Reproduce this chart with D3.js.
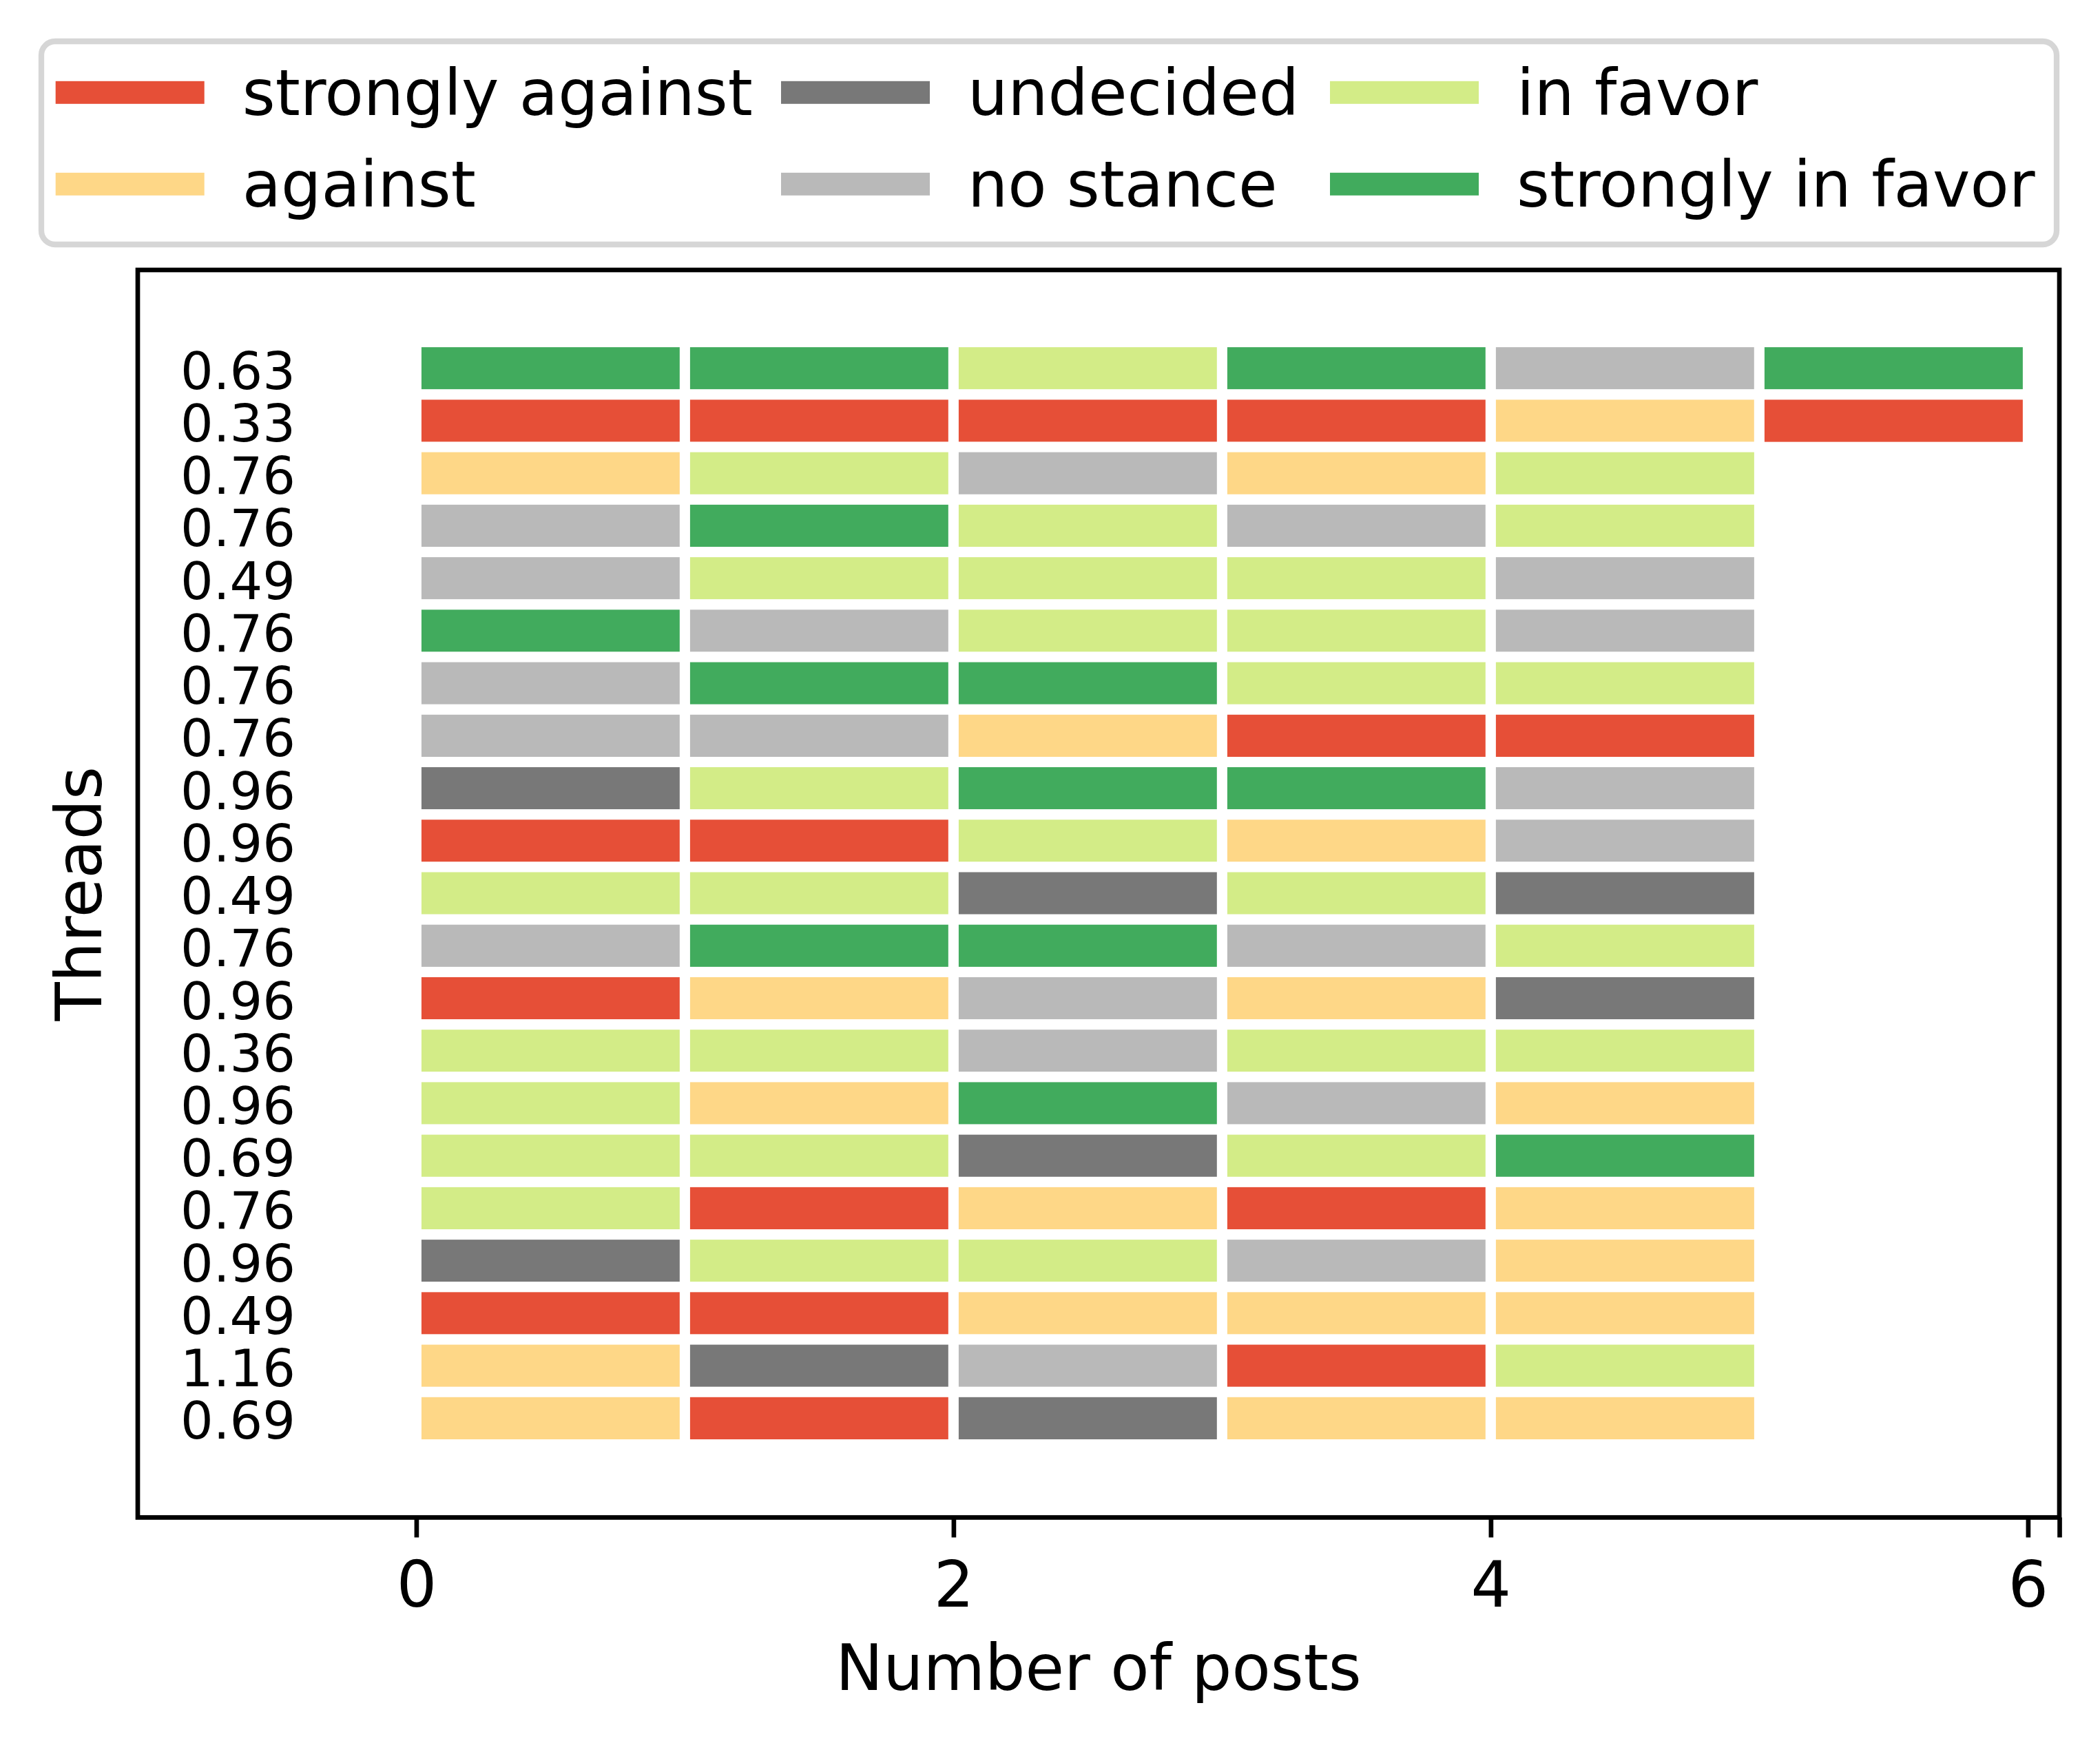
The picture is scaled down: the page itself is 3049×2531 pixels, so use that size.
<!DOCTYPE html>
<html>
<head>
<meta charset="utf-8">
<script src="https://cdn.jsdelivr.net/npm/d3@7"></script>
<style>
    html, body { margin: 0; padding: 0; background: #fff; }
    text { font-family: 'DejaVu Sans', sans-serif; fill: #000; }
</style>
</head>
<body>
<svg id="chart" width="3049" height="2531"></svg>
<script>
(function () {
    'use strict';

    // stance categories, in legend order
    var categories = ['strongly against', 'against', 'undecided', 'no stance', 'in favor', 'strongly in favor'];
    var categoryCodes = ['SA', 'A', 'U', 'N', 'F', 'SF'];
    var categoryColors = ['#e64f37', '#fed787', '#787878', '#b9b9b9', '#d3ec87', '#41ab5d'];

    // one label per thread, top to bottom
    var threadLabels = ['0.63', '0.33', '0.76', '0.76', '0.49', '0.76', '0.76', '0.76', '0.96', '0.96',
        '0.49', '0.76', '0.96', '0.36', '0.96', '0.69', '0.76', '0.96', '0.49', '1.16', '0.69'];

    // stance of each post, per thread
    var threadStances = [
        ['SF', 'SF', 'F', 'SF', 'N', 'SF'],
        ['SA', 'SA', 'SA', 'SA', 'A', 'SA'],
        ['A', 'F', 'N', 'A', 'F'],
        ['N', 'SF', 'F', 'N', 'F'],
        ['N', 'F', 'F', 'F', 'N'],
        ['SF', 'N', 'F', 'F', 'N'],
        ['N', 'SF', 'SF', 'F', 'F'],
        ['N', 'N', 'A', 'SA', 'SA'],
        ['U', 'F', 'SF', 'SF', 'N'],
        ['SA', 'SA', 'F', 'A', 'N'],
        ['F', 'F', 'U', 'F', 'U'],
        ['N', 'SF', 'SF', 'N', 'F'],
        ['SA', 'A', 'N', 'A', 'U'],
        ['F', 'F', 'N', 'F', 'F'],
        ['F', 'A', 'SF', 'N', 'A'],
        ['F', 'F', 'U', 'F', 'SF'],
        ['F', 'SA', 'A', 'SA', 'A'],
        ['U', 'F', 'F', 'N', 'A'],
        ['SA', 'SA', 'A', 'A', 'A'],
        ['A', 'U', 'N', 'SA', 'F'],
        ['A', 'SA', 'U', 'A', 'A']
    ];

    var xTicks = [0, 2, 4, 6];

    var plot = { left: 200, right: 2990, top: 392, bottom: 2203.5 },
        xDomain = [-1.037, 6.117],
        yDomain = [-1.873, 21.89],
        spineWidth = 6.67,
        svg = d3.select('#chart');

    var x = d3.scaleLinear().domain(xDomain).range([plot.left, plot.right]);
    var y = d3.scaleLinear().domain(yDomain).range([plot.top, plot.bottom]);
    var color = d3.scaleOrdinal().domain(categoryCodes).range(categoryColors);

    var cells = [];
    threadStances.forEach(function (row, r) {
        row.forEach(function (code, c) {
            cells.push({ row: r, col: c, code: code });
        });
    });

    // bars, one per post, separated by white edges
    svg.append('g')
        .attr('class', 'bars')
        .selectAll('rect')
        .data(cells)
        .enter()
        .append('rect')
        .attr('x', function (d) { return x(d.col); })
        .attr('width', function (d) { return x(d.col + 1) - x(d.col); })
        .attr('y', function (d) { return y(d.row - 0.5); })
        .attr('height', function (d) { return y(d.row + 0.5) - y(d.row - 0.5); })
        .attr('fill', function (d) { return color(d.code); })
        .attr('stroke', '#fff')
        .attr('stroke-width', 15);

    // thread labels drawn inside the axes
    svg.append('g')
        .attr('class', 'thread-labels')
        .selectAll('text')
        .data(threadLabels)
        .enter()
        .append('text')
        .attr('x', 429)
        .attr('y', function (d, i) { return y(i) + 30; })
        .attr('text-anchor', 'end')
        .attr('font-size', 75)
        .text(function (d) { return d; });

    // spines
    svg.append('rect')
        .attr('x', plot.left)
        .attr('y', plot.top)
        .attr('width', plot.right - plot.left)
        .attr('height', plot.bottom - plot.top)
        .attr('fill', 'none')
        .attr('stroke', '#000')
        .attr('stroke-width', spineWidth);

    var xAxis = d3.axisBottom(x)
        .tickValues(xTicks.concat([xDomain[1]]))
        .tickSize(29)
        .tickFormat(function (d) { return xTicks.indexOf(d) >= 0 ? d3.format('d')(d) : ''; });

    var gx = svg.append('g')
        .attr('transform', 'translate(0,' + plot.bottom + ')')
        .call(xAxis);

    gx.select('.domain').remove();
    gx.selectAll('.tick line')
        .attr('stroke', '#000')
        .attr('stroke-width', spineWidth);
    gx.selectAll('.tick text')
        .attr('y', 129.5)
        .attr('dy', 0)
        .attr('font-size', 92)
        .attr('font-family', 'DejaVu Sans')
        .attr('fill', '#000');
    gx.attr('font-family', null).attr('font-size', null);

    svg.append('text')
        .attr('x', (plot.left + plot.right) / 2)
        .attr('y', 2454)
        .attr('text-anchor', 'middle')
        .attr('font-size', 92)
        .text('Number of posts');

    svg.append('text')
        .attr('transform', 'translate(147,' + (plot.top + plot.bottom) / 2 + ') rotate(-90)')
        .attr('text-anchor', 'middle')
        .attr('font-size', 92)
        .text('Threads');

    // legend, three columns filled top to bottom
    var legend = svg.append('g').attr('class', 'legend'),
        colX = [80.7, 1134, 1931],
        rowY = [134.3, 267.3];

    legend.append('rect')
        .attr('x', 60)
        .attr('y', 60)
        .attr('width', 2926)
        .attr('height', 295)
        .attr('rx', 20)
        .attr('fill', '#fff')
        .attr('stroke', '#d6d6d6')
        .attr('stroke-width', 8.3);

    var items = legend.selectAll('g.item')
        .data(categories)
        .enter()
        .append('g')
        .attr('class', 'item')
        .attr('transform', function (d, i) {
            return 'translate(' + colX[Math.floor(i / 2)] + ',' + rowY[i % 2] + ')';
        });

    items.append('rect')
        .attr('x', 0)
        .attr('y', -16.5)
        .attr('width', 216)
        .attr('height', 33)
        .attr('fill', function (d, i) { return color(categoryCodes[i]); });

    items.append('text')
        .attr('x', 271)
        .attr('y', 32.4)
        .attr('font-size', 92)
        .text(function (d) { return d; });
}());
</script>
</body>
</html>
